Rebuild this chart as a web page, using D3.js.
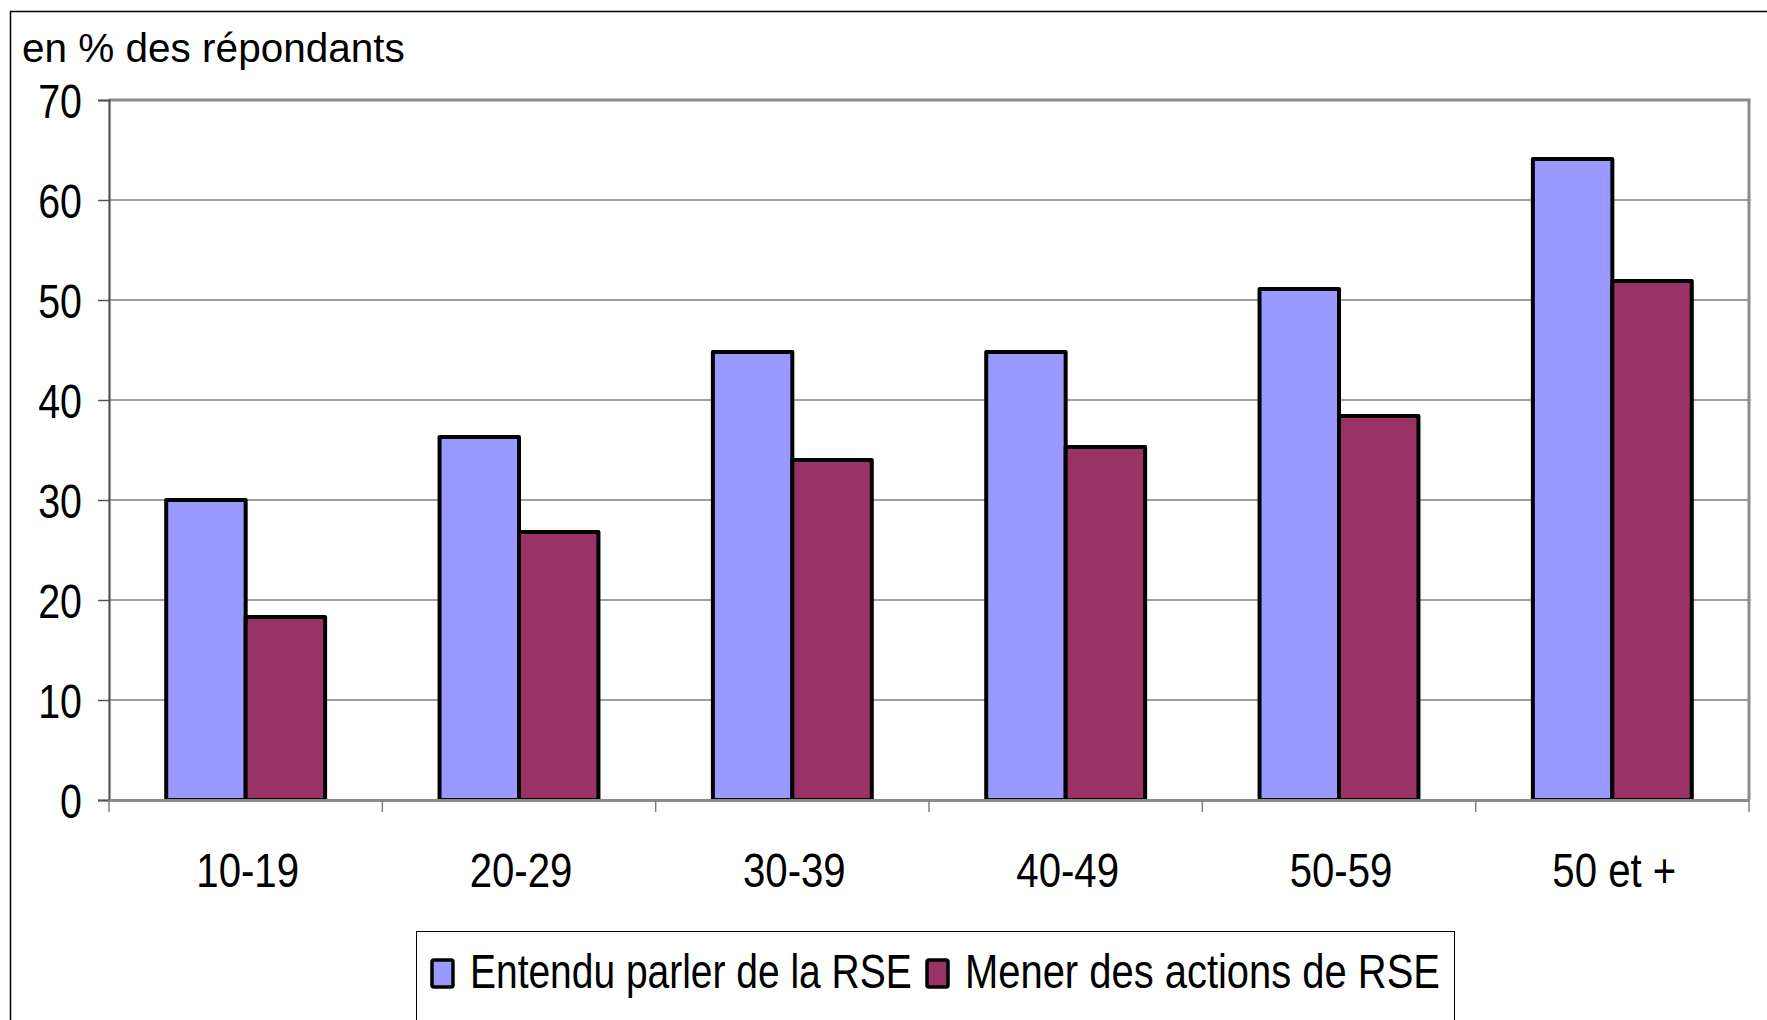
<!DOCTYPE html>
<html>
<head>
<meta charset="utf-8">
<script src="https://cdn.jsdelivr.net/npm/d3@7"></script>
<style>
  html, body { margin: 0; padding: 0; background: #fff; }
  svg { display: block; }
  text { font-family: "Liberation Sans", Arial, sans-serif; fill: #000; }
</style>
</head>
<body>
<svg id="chart" width="1767" height="1020"></svg>
<script>
// ---- Data ----
const categories = ["10-19", "20-29", "30-39", "40-49", "50-59", "50 et +"];
const seriesNames = ["Entendu parler de la RSE", "Mener des actions de RSE"];
const entendu = [30.0, 36.3, 44.8, 44.8, 51.1, 64.1];
const mener = [18.3, 26.8, 34.0, 35.3, 38.4, 51.9];
const yTicks = [0, 10, 20, 30, 40, 50, 60, 70];
const colors = ["#9999FF", "#993366"];
const yTitle = "en % des répondants";

// emulate Arial Narrow with horizontal compression
function narrow(k) {
  return function (sel) {
    sel.each(function () {
      const t = d3.select(this);
      const ax = +t.attr("x") || 0;
      const prev = t.attr("transform") || "";
      t.attr("transform", `${prev} translate(${ax},0) scale(${k},1) translate(${-ax},0)`);
    });
  };
}

const svg = d3.select("#chart");
const plot = { left: 109, right: 1749, top: 100, bottom: 800 };

// outer frame
svg.append("rect").attr("x", 10.5).attr("y", 11.5).attr("width", 1800).attr("height", 1100)
  .attr("fill", "#fff").attr("stroke", "#000").attr("stroke-width", 1.5);

const x0 = d3.scaleBand().domain(categories).range([plot.left, plot.right]).padding(0);
const x1 = d3.scaleBand().domain(seriesNames).range([0, x0.bandwidth()]).paddingInner(0).paddingOuter(0.72);
const y = d3.scaleLinear().domain([0, 70]).range([plot.bottom, plot.top]);

// gridlines
svg.append("g").selectAll("line").data(yTicks.filter(t => t > 0 && t < 70)).join("line")
  .attr("x1", plot.left).attr("x2", plot.right)
  .attr("y1", d => y(d)).attr("y2", d => y(d))
  .attr("stroke", "#808080").attr("stroke-width", 1.6);

// plot border top & right
svg.append("path")
  .attr("d", `M${plot.left},${plot.top}H${plot.right}V${plot.bottom}`)
  .attr("fill", "none").attr("stroke", "#8c8c8c").attr("stroke-width", 3);

// bars
const data = categories.map((c, i) => ({ cat: c, vals: [entendu[i], mener[i]] }));
const groups = svg.append("g").selectAll("g").data(data).join("g")
  .attr("transform", d => `translate(${x0(d.cat)},0)`);
groups.selectAll("rect").data(d => d.vals.map((v, j) => ({ v, s: seriesNames[j], j }))).join("rect")
  .attr("x", d => x1(d.s))
  .attr("y", d => y(d.v))
  .attr("width", x1.bandwidth())
  .attr("height", d => y(0) - y(d.v))
  .attr("fill", d => colors[d.j])
  .attr("stroke", "#000").attr("stroke-width", 4).attr("stroke-linejoin", "round");

// y axis
const yAxis = d3.axisLeft(y).tickValues(yTicks).tickSize(11).tickPadding(10).tickFormat(d3.format("d"));
const gy = svg.append("g").attr("transform", `translate(${plot.left},0)`).call(yAxis);
gy.select(".domain").attr("stroke", "#555").attr("stroke-width", 2.2);
gy.selectAll(".tick line").attr("stroke", "#555").attr("stroke-width", 1.5);
gy.selectAll(".tick text").attr("font-size", 48).attr("dy", "0.36em").attr("x", -27)
  .style("font-family", '"Liberation Sans", Arial, sans-serif').attr("fill", "#000")
  .call(narrow(0.82));

// x axis
const xAxis = d3.axisBottom(x0).tickSize(0).tickPadding(0);
const gx = svg.append("g").attr("transform", `translate(0,${plot.bottom})`).call(xAxis);
gx.select(".domain").attr("stroke", "#8c8c8c").attr("stroke-width", 3);
gx.selectAll(".tick text").attr("font-size", 49).attr("y", 87).attr("dy", 0).attr("x", 2)
  .style("font-family", '"Liberation Sans", Arial, sans-serif').attr("fill", "#000")
  .call(narrow(0.82));
// category boundary ticks
const bounds = categories.map(c => x0(c)).concat([plot.right]);
svg.append("g").selectAll("line").data(bounds).join("line")
  .attr("x1", d => d).attr("x2", d => d)
  .attr("y1", plot.bottom).attr("y2", plot.bottom + 12)
  .attr("stroke", "#808080").attr("stroke-width", 1.5);

// y title
svg.append("text").attr("x", 22).attr("y", 62).attr("font-size", 40.5).text(yTitle);

// legend
const lg = svg.append("g");
lg.append("rect").attr("x", 416.5).attr("y", 931.5).attr("width", 1038).attr("height", 200)
  .attr("fill", "#fff").attr("stroke", "#000").attr("stroke-width", 1);
const legendItems = [
  { name: seriesNames[0], color: colors[0], sx: 432, tx: 470, k: 0.795 },
  { name: seriesNames[1], color: colors[1], sx: 927, tx: 965, k: 0.815 }
];
legendItems.forEach(it => {
  lg.append("rect").attr("x", it.sx).attr("y", 960).attr("width", 21).attr("height", 27)
    .attr("rx", 2).attr("fill", it.color).attr("stroke", "#000").attr("stroke-width", 3.5);
  lg.append("text").attr("x", it.tx).attr("y", 988).attr("font-size", 49).text(it.name).call(narrow(it.k));
});
</script>
</body>
</html>
